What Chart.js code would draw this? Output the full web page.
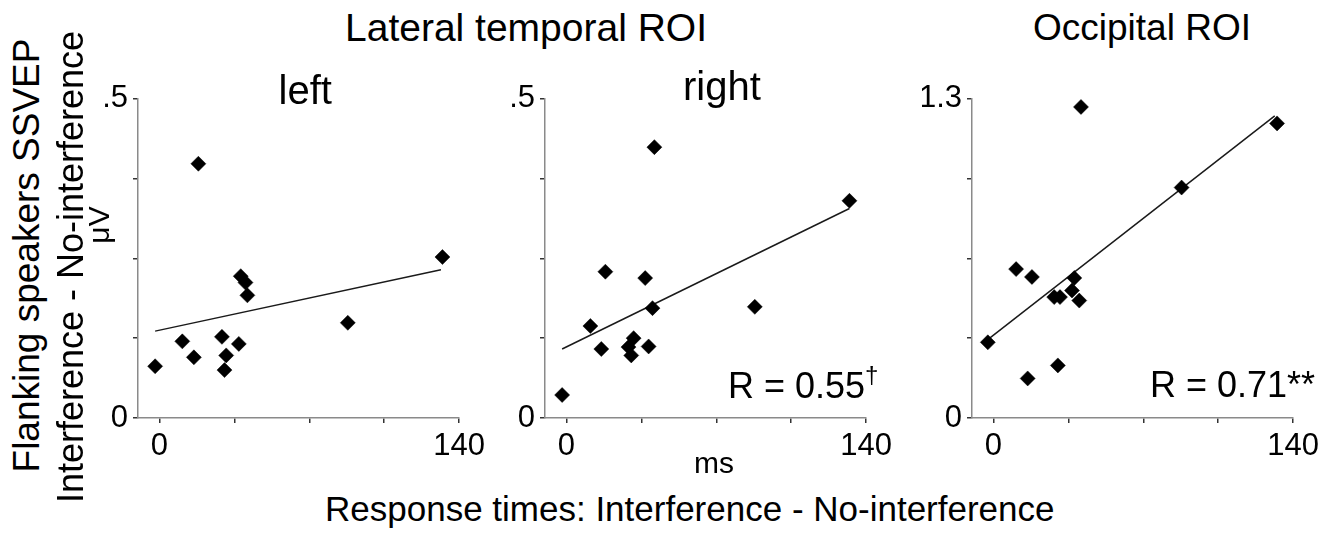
<!DOCTYPE html>
<html><head><meta charset="utf-8">
<script src="https://cdn.jsdelivr.net/npm/chart.js@4.4.1/dist/chart.umd.min.js"></script>
<style>
html,body{margin:0;padding:0;background:#fff;width:1336px;height:533px;overflow:hidden;position:relative;font-family:"Liberation Sans",Arial,Helvetica,sans-serif;}
canvas{position:absolute;}
.t{position:absolute;white-space:nowrap;color:#000;line-height:1;font-family:"Liberation Sans",Arial,Helvetica,sans-serif;}
</style></head><body>
<script>
// ---- data ----
const xTickValues = [0, 35, 70, 105, 140];
const xTickLabels = ['0', '', '', '', '140'];
const latYTickValues = [0, 0.125, 0.25, 0.375, 0.5];
const latYTickLabels = ['0', '', '', '', '.5'];
const occYTickValues = [0, 0.325, 0.65, 0.975, 1.3];
const occYTickLabels = ['0', '', '', '', '1.3'];

const leftRT  = [-2.0, 18.2, 10.7, 16.1, 29.2, 31.2, 30.4, 37.1, 38.0, 40.2, 41.1, 88.0, 132.2];
const leftAmp = [0.081, 0.398, 0.120, 0.095, 0.127, 0.098, 0.075, 0.116, 0.222, 0.212, 0.192, 0.149, 0.252];
const leftFitRT  = [-2.0, 131.5];
const leftFitAmp = [0.136, 0.232];

const rightRT  = [-2.0, 41.1, 132.2, 18.2, 36.8, 40.2, 88.0, 11.2, 16.3, 31.4, 29.0, 30.3, 38.4];
const rightAmp = [0.036, 0.424, 0.340, 0.229, 0.219, 0.172, 0.174, 0.144, 0.108, 0.125, 0.111, 0.098, 0.112];
const rightFitRT  = [-2.0, 132.2];
const rightFitAmp = [0.108, 0.328];

const occRT  = [-2.6, 40.9, 132.5, 87.9, 10.6, 18.0, 37.8, 36.7, 28.4, 31.1, 40.1, 30.1, 16.0];
const occAmp = [0.308, 1.266, 1.199, 0.938, 0.606, 0.574, 0.570, 0.519, 0.492, 0.492, 0.478, 0.214, 0.161];
const occFitRT  = [-1.9, 131.4];
const occFitAmp = [0.324, 1.230];

// ---- layout ----
const FONT = '"Liberation Sans", Arial, Helvetica, sans-serif';
const AX_W = 50, AX_H = 45, PAD_T = 20, PAD_R = 30, AREA_W = 322, AREA_H = 323;

function makePanel(areaLeft, areaTop, xs, ys, fx, fy, ymax, yVals, yLabs) {
  const cv = document.createElement('canvas');
  const w = AX_W + AREA_W + PAD_R, h = PAD_T + AREA_H + AX_H;
  cv.width = w; cv.height = h;
  cv.style.width = w + 'px'; cv.style.height = h + 'px';
  cv.style.left = (areaLeft - AX_W) + 'px';
  cv.style.top = (areaTop - PAD_T) + 'px';
  document.body.appendChild(cv);
  new Chart(cv, {
    type: 'scatter',
    data: { datasets: [
      { type: 'line', data: fx.map((x, i) => ({ x: x, y: fy[i] })), borderColor: '#1a1a1a', borderWidth: 1.5,
        pointRadius: 0, fill: false, order: 2, clip: false, tension: 0 },
      { data: xs.map((x, i) => ({ x: x, y: ys[i] })), pointStyle: 'rectRot', pointRadius: 7.5,
        backgroundColor: '#000', borderColor: '#000', borderWidth: 0.5, order: 1, clip: false }
    ]},
    options: {
      responsive: false, animation: false, devicePixelRatio: 1,
      layout: { padding: { left: 0, top: PAD_T, right: PAD_R, bottom: 0 } },
      plugins: { legend: { display: false }, tooltip: { enabled: false } },
      scales: {
        x: {
          type: 'linear', min: -10, max: 140,
          afterBuildTicks: s => { s.ticks = xTickValues.map(v => ({ value: v })); },
          afterFit: s => { s.height = AX_H; },
          ticks: { autoSkip: false, maxRotation: 0, minRotation: 0, padding: 5, color: '#000',
            font: { family: FONT, size: 31 }, callback: (v, i) => xTickLabels[i] },
          grid: { drawOnChartArea: false, drawTicks: true, tickLength: 5, color: '#333', lineWidth: 1.5 },
          border: { display: true, color: '#8a8a8a', width: 1.5 }
        },
        y: {
          type: 'linear', min: 0, max: ymax,
          afterBuildTicks: s => { s.ticks = yVals.map(v => ({ value: v })); },
          afterFit: s => { s.width = AX_W; },
          ticks: { autoSkip: false, padding: 5, color: '#000',
            font: { family: FONT, size: 31 }, callback: (v, i) => yLabs[i] },
          grid: { drawOnChartArea: false, drawTicks: true, tickLength: 5, color: '#333', lineWidth: 1.5 },
          border: { display: true, color: '#8a8a8a', width: 1.5 }
        }
      }
    }
  });
}

makePanel(138, 95, leftRT, leftAmp, leftFitRT, leftFitAmp, 0.5, latYTickValues, latYTickLabels);
makePanel(545, 95, rightRT, rightAmp, rightFitRT, rightFitAmp, 0.5, latYTickValues, latYTickLabels);
makePanel(972, 95, occRT, occAmp, occFitRT, occFitAmp, 1.3, occYTickValues, occYTickLabels);

// ---- text ----
function txt(html, x, baseline, fs, align) {
  const d = document.createElement('div');
  d.className = 't'; d.innerHTML = html; d.style.fontSize = fs + 'px';
  document.body.appendChild(d);
  const w = d.offsetWidth;
  let left = x;
  if (align === 'center') left = x - w / 2;
  else if (align === 'right') left = x - w;
  d.style.left = left + 'px';
  d.style.top = (baseline - 0.8465 * fs) + 'px';
}
function vtxt(html, baselineX, cy, fs) {
  const d = document.createElement('div');
  d.className = 't'; d.innerHTML = html; d.style.fontSize = fs + 'px';
  document.body.appendChild(d);
  const w = d.offsetWidth;
  const cx = baselineX - 0.3465 * fs;
  d.style.left = (cx - w / 2) + 'px';
  d.style.top = (cy - fs / 2) + 'px';
  d.style.height = fs + 'px';
  d.style.transformOrigin = 'center center';
  d.style.transform = 'rotate(-90deg)';
}

txt('Lateral temporal ROI', 526, 41, 39, 'center');
txt('Occipital ROI', 1142, 40, 37, 'center');
txt('left', 305, 104, 40, 'center');
txt('right', 722, 100, 40, 'center');
txt('ms', 714, 473, 30, 'center');
txt('Response times: Interference - No-interference', 690, 521, 35, 'center');
txt('R = 0.55<span style="font-size:24px;position:relative;top:-15px;">&#8224;</span>', 728, 398, 36, 'left');
txt('R = 0.71**', 1150, 397, 36, 'left');
vtxt('Flanking speakers SSVEP', 40, 255, 37);
vtxt('Interference - No-interference', 83, 267, 36);
vtxt('&#956;V', 109, 225, 30);
</script>
</body></html>
